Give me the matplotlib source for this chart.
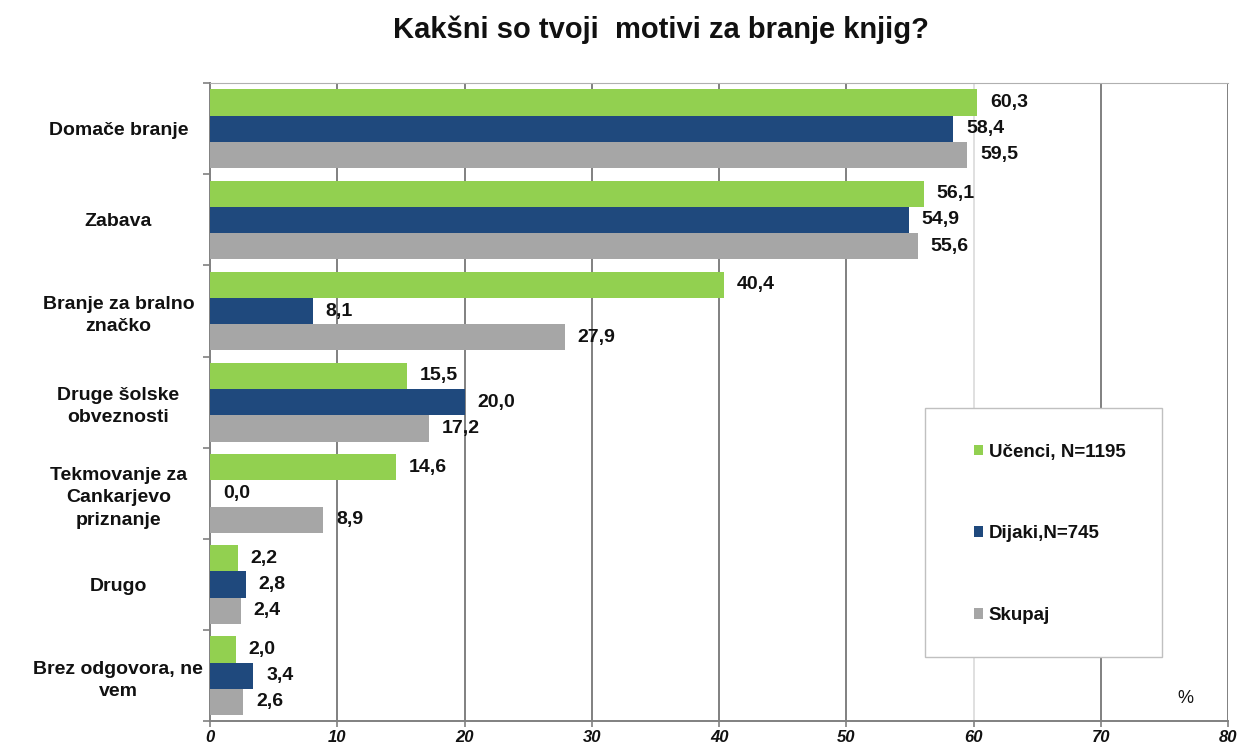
"""
Kakšni so tvoji motivi za branje knjig?
"""
import numpy as np
from matplotlib import pyplot as plt
import matplotlib.patches as patches

# Data:
categories = ['Domače branje', 'Zabava', 'Branje za bralno\nznačko',
              'Druge šolske\nobveznosti', 'Tekmovanje za\nCankarjevo\npriznanje',
              'Drugo', 'Brez odgovora, ne\nvem']
ucenci = [60.3, 56.1, 40.4, 15.5, 14.6, 2.2, 2.0]
dijaki = [58.4, 54.9, 8.1, 20.0, 0.0, 2.8, 3.4]
skupaj = [59.5, 55.6, 27.9, 17.2, 8.9, 2.4, 2.6]
series_labels = ['Učenci, N=1195', 'Dijaki,N=745', 'Skupaj']
xticks = [0, 10, 20, 30, 40, 50, 60, 70, 80]

plt.rcParams['font.family'] = ['Liberation Sans', 'DejaVu Sans']

colours = ['#92D050', '#1F497D', '#A6A6A6']
gridColour = '#808080'
textColour = '#111111'

figure = plt.figure(figsize=(12.43, 7.49), dpi=100)
ax = figure.add_axes([0.169, 0.037, 0.819, 0.852])

n = len(categories)
y = np.arange(n)
h = 0.288

for k, (vals, col, lab) in enumerate(zip([ucenci, dijaki, skupaj], colours, series_labels)):
    pos = y - h + k * h
    ax.barh(pos, vals, height=h, color=col, label=lab, zorder=3)
    for p, v in zip(pos, vals):
        ax.text(v + 1.0, p, f'{v:.1f}'.replace('.', ','), va='center', ha='left',
                fontsize=14, fontweight='bold', color=textColour, zorder=4)

ax.set_xlim(0, 80)
ax.set_ylim(n - 0.5, -0.5)
ax.set_xticks(xticks)
ax.set_xticklabels([str(t) for t in xticks], fontsize=12, fontweight='bold',
                   style='italic', color=textColour)
ax.set_yticks(np.arange(n + 1) - 0.5, minor=False)
ax.set_yticklabels([])
ax.set_yticks(y, minor=True)
ax.set_yticklabels(categories, minor=True, fontsize=14, fontweight='bold',
                   ha='center', color=textColour, linespacing=1.4)
ax.tick_params(axis='y', which='minor', length=0, pad=66)
ax.tick_params(axis='y', which='major', length=5, color=gridColour, width=1.2)
ax.tick_params(axis='x', length=4, color=gridColour, width=1.2, pad=2)

for t in xticks[1:]:
    c = '#e0e0e0' if t == 60 else gridColour
    ax.axvline(t, color=c, linewidth=1.4, zorder=1)

for s in ['left', 'bottom']:
    ax.spines[s].set_color(gridColour)
    ax.spines[s].set_linewidth(1.4)
ax.spines['top'].set_color('#b0b0b0')
ax.spines['right'].set_visible(False)

# Legend box:
box = patches.Rectangle((0.702, 0.100), 0.233, 0.391, transform=ax.transAxes,
                        facecolor='white', edgecolor='#c0c0c0', linewidth=1.0, zorder=5)
ax.add_patch(box)
leg = ax.legend(loc='upper left', bbox_to_anchor=(0.75, 0.435), frameon=False,
                handlelength=0.5, handleheight=0.5, handletextpad=0.3,
                labelspacing=3.45, borderpad=0, borderaxespad=0,
                prop={'size': 13.5, 'weight': 'bold'})
for t in leg.get_texts():
    t.set_color(textColour)
leg.set_zorder(6)

figure.text(0.532, 0.96, 'Kakšni so tvoji  motivi za branje knjig?', ha='center',
            va='center', fontsize=21, fontweight='bold', color=textColour)
ax.text(0.958, 0.035, '%', transform=ax.transAxes, fontsize=13, ha='center',
        va='center', color=textColour)

plt.savefig('out.png', dpi=100)
